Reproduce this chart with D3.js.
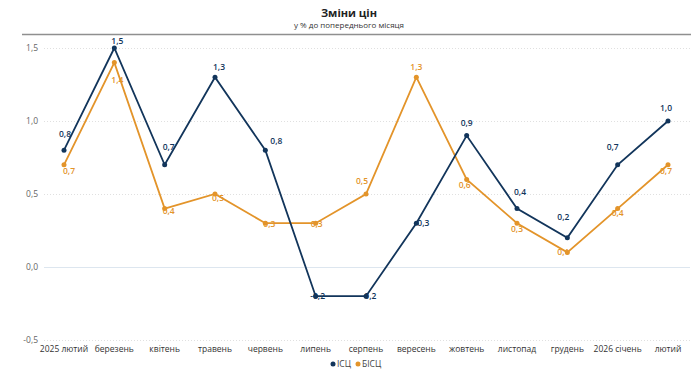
<!DOCTYPE html>
<html>
<head>
<meta charset="utf-8">
<script src="https://cdn.jsdelivr.net/npm/d3@7"></script>
<style>
  body { margin: 0; background: #fff; }
  text { font-family: "Open Sans", "Noto Sans", sans-serif; }
</style>
</head>
<body>
<script>
// months on the x axis
var months = ['2025 лютий', 'березень', 'квітень', 'травень', 'червень', 'липень', 'серпень',
  'вересень', 'жовтень', 'листопад', 'грудень', '2026 січень', 'лютий'];

// series values, % to previous month
var cpi = [0.8, 1.5, 0.7, 1.3, 0.8, -0.2, -0.2, 0.3, 0.9, 0.4, 0.2, 0.7, 1.0];
var coreCpi = [0.7, 1.4, 0.4, 0.5, 0.3, 0.3, 0.5, 1.3, 0.6, 0.3, 0.1, 0.4, 0.7];

// y ticks
var yTicks = [-0.5, 0, 0.5, 1.0, 1.5];

// label nudges (px) from each point, like the auto-placed labels in the original
var cpiNudge = [[1, -16], [3, -7], [4, -18], [4, -10], [11, -9], [2, 0], [3, 0],
  [7, 0], [0, -13], [3, -17], [-4, -21], [-5, -18], [-2, -13]];
var coreNudge = [[5, 6], [3, 17], [4, 2], [3, 4], [4, 1], [1, 1], [-4, -13],
  [0, -10], [-2, 6], [0, 6], [-4, 0], [0, 4], [-2, 6]];

var width = 697, height = 374;
var margin = { left: 44, right: 29, top: 48, bottom: 34 };

var svg = d3.select('body').append('svg')
  .attr('width', width)
  .attr('height', height);

var fmt = function(v) { return d3.format('.1f')(v).replace('.', ',').replace('−', '-'); };

// scales
var x = d3.scalePoint()
  .domain(months)
  .range([64, 668]);

var y = d3.scaleLinear()
  .domain([-0.5, 1.5])
  .range([height - margin.bottom, margin.top]);

// title
svg.append('text')
  .attr('x', 349).attr('y', 17)
  .attr('text-anchor', 'middle')
  .style('font-size', '11px')
  .style('font-weight', 'bold')
  .attr('fill', '#222')
  .text('Зміни цін');

svg.append('text')
  .attr('x', 349).attr('y', 28)
  .attr('text-anchor', 'middle')
  .style('font-size', '8px')
  .attr('fill', '#333')
  .text('у % до попереднього місяця');

svg.append('line')
  .attr('x1', 22).attr('x2', 691)
  .attr('y1', 34.5).attr('y2', 34.5)
  .attr('stroke', '#8f8f8f')
  .attr('stroke-width', 1.5);

// grid
svg.append('g').selectAll('line')
  .data(yTicks)
  .enter().append('line')
  .attr('x1', margin.left).attr('x2', 690)
  .attr('y1', function(d) { return y(d) + 0.5; })
  .attr('y2', function(d) { return y(d) + 0.5; })
  .attr('stroke', function(d) { return d === 0 ? '#dde6ef' : '#e0e0e0'; })
  .attr('stroke-width', function(d) { return d === 0 ? 1.2 : 1; })
  .attr('stroke-dasharray', function(d) { return d === 0 ? null : '1,2'; });

// y axis labels
svg.append('g').selectAll('text')
  .data(yTicks)
  .enter().append('text')
  .attr('x', 38)
  .attr('y', function(d) { return y(d) + 3; })
  .attr('text-anchor', 'end')
  .style('font-size', '8.5px')
  .attr('fill', '#666')
  .text(fmt);

// x axis labels
svg.append('g').selectAll('text')
  .data(months)
  .enter().append('text')
  .attr('x', function(d) { return x(d); })
  .attr('y', 352)
  .attr('text-anchor', 'middle')
  .style('font-size', '8.5px')
  .attr('fill', '#333')
  .text(function(d) { return d; });

var line = d3.line()
  .x(function(d, i) { return x(months[i]); })
  .y(function(d) { return y(d); });

function drawSeries(values, color, nudge) {
  var g = svg.append('g');
  g.append('path')
    .datum(values)
    .attr('d', line)
    .attr('fill', 'none')
    .attr('stroke', color)
    .attr('stroke-width', 1.8);

  g.selectAll('circle')
    .data(values)
    .enter().append('circle')
    .attr('cx', function(d, i) { return x(months[i]); })
    .attr('cy', function(d) { return y(d); })
    .attr('r', 2.5)
    .attr('fill', color);

  g.selectAll('text')
    .data(values)
    .enter().append('text')
    .attr('x', function(d, i) { return x(months[i]) + nudge[i][0]; })
    .attr('y', function(d, i) { return y(d) + nudge[i][1] + 3; })
    .attr('text-anchor', 'middle')
    .style('font-size', '8.5px')
    .style('font-weight', '600')
    .attr('fill', color)
    .text(fmt);
}

var navy = '#12355b', orange = '#e3942a';
drawSeries(coreCpi, orange, coreNudge);
drawSeries(cpi, navy, cpiNudge);

// legend
var legend = [{ name: 'ІСЦ', color: navy }, { name: 'БІСЦ', color: orange }];
var lg = svg.append('g').attr('transform', 'translate(333,367)');
lg.append('circle').attr('cx', 0).attr('cy', -3).attr('r', 2.5).attr('fill', legend[0].color);
lg.append('text').attr('x', 4).attr('y', 0).style('font-size', '8.5px').attr('fill', '#444').text(legend[0].name);
lg.append('circle').attr('cx', 25).attr('cy', -3).attr('r', 2.5).attr('fill', legend[1].color);
lg.append('text').attr('x', 29).attr('y', 0).style('font-size', '8.5px').attr('fill', '#444').text(legend[1].name);
</script>
</body>
</html>
